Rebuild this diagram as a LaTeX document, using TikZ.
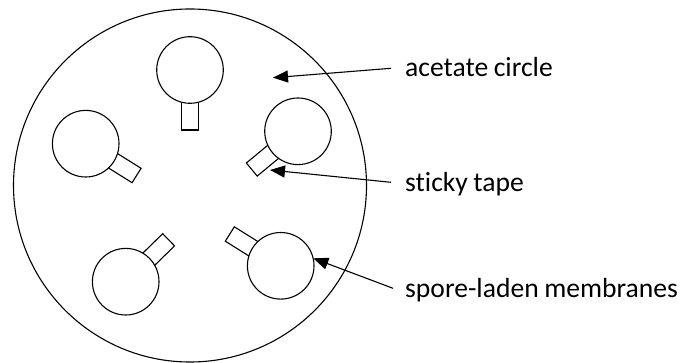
\documentclass[tikz,border=0pt]{standalone}
\usepackage{fontspec}
\setmainfont{Carlito}[Ligatures=NoCommon]
\usetikzlibrary{arrows.meta,calc}
\newcommand\mylblfont{\fontsize{27.6}{33}\selectfont\spaceskip=0.2em plus 0.1em\relax}
\begin{document}
\begin{tikzpicture}[x=1pt,y=-1pt,
  outline/.style={draw=black,line width=1.1pt},
  membrane/.style={outline,circle,fill=white,minimum size=66.6pt,inner sep=0pt},
  tapebox/.style={outline,rectangle,fill=white,minimum width=36pt,minimum height=17pt,inner sep=0pt},
  lbl/.style={anchor=base west,inner sep=0pt,font=\mylblfont},
  pointer/.style={draw=black,line width=1.1pt,-{Triangle[length=15pt,width=12pt]}}]
\useasboundingbox (0,0) rectangle (684,363);
\node[outline,circle,minimum size=353pt,inner sep=0pt] (acetate) at (190,185.5) {};
% membranes with tapes: centre, screen angle
\foreach \n/\cx/\cy/\a in {m1/190/70/90, m2/85.7/143.7/32, m3/298/131.3/140.4, m4/125.7/281.7/-44.3, m5/280.7/265.8/212}{
  \coordinate (\n c) at (\cx,\cy);
  \node[tapebox,rotate=-\a] (\n t) at ($(\n c)+(\a:42)$) {};
  \node[membrane] (\n) at (\n c) {};
}
\node[lbl] (l1) at (405,77) {acetate circle};
\node[lbl] (l2) at (405,192) {sticky tape};
\node[lbl] (l3) at (405,297) {spore-laden membranes};
\coordinate (s1) at (391,68.3);
\coordinate (e1) at (273,77.7);
\coordinate (s2) at (391,182.3);
\coordinate (e2) at (270,170);
\coordinate (s3) at (393,288.3);
\coordinate (e3) at (313.3,258.3);
\draw[pointer] (s1) -- (e1);
\draw[pointer] (s2) -- (e2);
\draw[pointer] (s3) -- (e3);
\end{tikzpicture}
\end{document}
